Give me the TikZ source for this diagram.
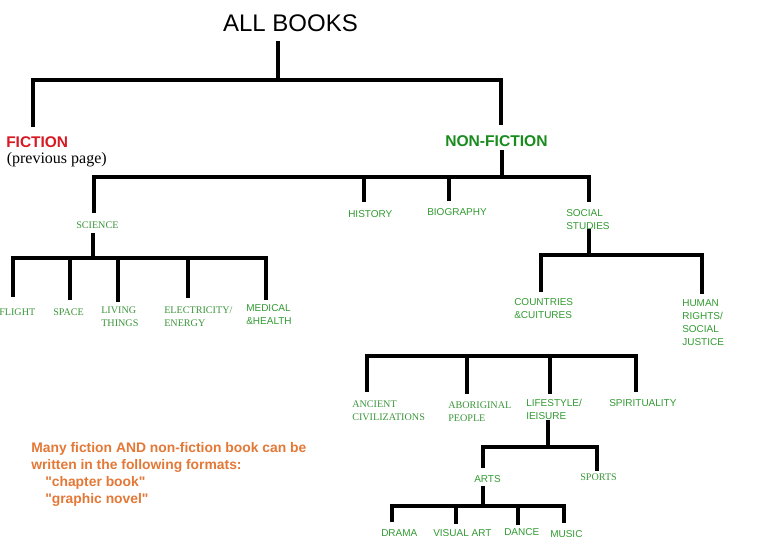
\documentclass[tikz,border=0pt]{standalone}
\usepackage{fontspec}
\setmainfont{Liberation Serif}
\setsansfont{Liberation Sans}
\newfontfamily\notefont{Liberation Sans}[Ligatures=TeXOff]
\definecolor{gsans}{RGB}{50,155,50}
\definecolor{gser}{RGB}{60,150,60}
\definecolor{nfgreen}{RGB}{25,140,30}
\definecolor{fred}{RGB}{215,25,35}
\definecolor{orng}{RGB}{228,120,55}
\begin{document}
\begin{tikzpicture}[x=0.75pt,y=-0.75pt,
  conn/.style={line width=2.3pt, black},
  lbl/.style={inner sep=0pt, anchor=west, align=left, font=\fontsize{7.5}{9.75}\selectfont},
  sanslbl/.style={lbl, text=gsans, font=\sffamily\fontsize{7.5}{9.75}\selectfont},
  serlbl/.style={lbl, text=gser, font=\rmfamily\fontsize{7.6}{9.75}\selectfont}]
\useasboundingbox (0,0) rectangle (780,550);
\fill[white] (0,0) rectangle (780,550);

% ---- text nodes ----
\node[inner sep=0pt, anchor=center, font=\sffamily\fontsize{18}{20}\selectfont] (allbooks) at (290.5,23.7) {ALL BOOKS};
\node[inner sep=0pt, anchor=west, text=fred, font=\sffamily\bfseries\fontsize{11.6}{13}\selectfont] (fiction) at (6,142.5) {FICTION};
\node[inner sep=0pt, anchor=west, font=\rmfamily\fontsize{12}{13}\selectfont] (prev) at (6.5,160) {(previous page)};
\node[inner sep=0pt, anchor=west, text=nfgreen, font=\sffamily\bfseries\fontsize{11.7}{13}\selectfont] (nonfiction) at (445,141) {NON-FICTION};

\node[serlbl] (science) at (76,225.5) {SCIENCE};
\node[sanslbl] (history) at (348,214) {HISTORY};
\node[sanslbl] (bio) at (427,212) {BIOGRAPHY};
\node[sanslbl] (social) at (566,219.5) {SOCIAL\\STUDIES};

\node[serlbl] (flight) at (-1,312) {FLIGHT};
\node[serlbl] (space) at (53,312) {SPACE};
\node[serlbl] (living) at (101,316.5) {LIVING\\THINGS};
\node[serlbl] (elec) at (164,317) {ELECTRICITY/\\ENERGY};
\node[sanslbl] (medical) at (246,314.5) {MEDICAL\\\&HEALTH};

\node[sanslbl] (countries) at (514,308.5) {COUNTRIES\\\&CUITURES};
\node[sanslbl] (human) at (682,322.5) {HUMAN\\RIGHTS/\\SOCIAL\\JUSTICE};

\node[serlbl] (ancient) at (352,410.5) {ANCIENT\\CIVILIZATIONS};
\node[serlbl] (abor) at (448,412) {ABORIGINAL\\PEOPLE};
\node[sanslbl] (life) at (526,409.5) {LIFESTYLE/\\IEISURE};
\node[sanslbl] (spirit) at (609,403) {SPIRITUALITY};

\node[sanslbl] (arts) at (474,479) {ARTS};
\node[serlbl] (sports) at (580,477) {SPORTS};

\node[sanslbl] (drama) at (381,533) {DRAMA};
\node[sanslbl] (visual) at (433,533) {VISUAL ART};
\node[sanslbl] (dance) at (504,532) {DANCE};
\node[sanslbl] (music) at (550,534) {MUSIC};

\node[inner sep=0pt, anchor=north west, align=left, text=orng,
  font=\notefont\bfseries\fontsize{10.4}{12.75}\selectfont] (note) at (31,442.5)
  {Many fiction AND non-fiction book can be\\
   written in the following formats:\\
   \hspace*{10.5pt}"chapter book"\\
   \hspace*{10.5pt}"graphic novel"};

% ---- connector coordinates ----
\coordinate (abP) at (278,41);
\coordinate (topL) at (33,80);
\coordinate (topR) at (501,80);
\coordinate (ficE) at (33,127);
\coordinate (nfE) at (501,125);
\coordinate (nfP) at (502,150);
\coordinate (nfL) at (94,177);
\coordinate (nfR) at (589,177);
\coordinate (sciE) at (94,213);
\coordinate (histE) at (364,202);
\coordinate (bioE) at (449,201);
\coordinate (socE) at (589,202);

\coordinate (sciP) at (93,233);
\coordinate (sciL) at (13,258);
\coordinate (sciR) at (266,258);
\coordinate (flightE) at (13,297);
\coordinate (spaceE) at (70,300);
\coordinate (livingE) at (118,302);
\coordinate (elecE) at (188,298);
\coordinate (medE) at (266,300);

\coordinate (socP) at (589,229);
\coordinate (socL) at (541,255);
\coordinate (socR) at (702,255);
\coordinate (cntE) at (541,292);
\coordinate (humE) at (702,294);

\coordinate (botL) at (367,356);
\coordinate (botR) at (636,356);
\coordinate (ancE) at (367,392);
\coordinate (aboE) at (467,394);
\coordinate (lifeE) at (550,394);
\coordinate (spiE) at (636,392);

\coordinate (lifeP) at (548,420);
\coordinate (lifeL) at (483,447);
\coordinate (lifeR) at (597,447);
\coordinate (artsE) at (483,468);
\coordinate (sportE) at (597,471);

\coordinate (artsP) at (483,486);
\coordinate (artsL) at (392,506);
\coordinate (artsR) at (564,506);
\coordinate (dramaE) at (392,522);
\coordinate (visE) at (456,524);
\coordinate (danceE) at (518,525);
\coordinate (musicE) at (564,523);

% ---- connectors ----
\draw[conn] (abP) -- (abP |- topL);
\draw[conn] (ficE) -- (topL) -- (topR) -- (nfE);
\draw[conn] (nfP) -- (nfP |- nfR);
\draw[conn] (sciE) -- (nfL) -- (nfR) -- (socE);
\draw[conn] (histE) -- (histE |- nfL);
\draw[conn] (bioE) -- (bioE |- nfL);

\draw[conn] (sciP) -- (sciP |- sciL);
\draw[conn] (flightE) -- (sciL) -- (sciR) -- (medE);
\draw[conn] (spaceE) -- (spaceE |- sciL);
\draw[conn] (livingE) -- (livingE |- sciL);
\draw[conn] (elecE) -- (elecE |- sciL);

\draw[conn] (socP) -- (socP |- socL);
\draw[conn] (cntE) -- (socL) -- (socR) -- (humE);

\draw[conn] (ancE) -- (botL) -- (botR) -- (spiE);
\draw[conn] (aboE) -- (aboE |- botL);
\draw[conn] (lifeE) -- (lifeE |- botL);

\draw[conn] (lifeP) -- (lifeP |- lifeL);
\draw[conn] (artsE) -- (lifeL) -- (lifeR) -- (sportE);

\draw[conn] (artsP) -- (artsP |- artsL);
\draw[conn] (dramaE) -- (artsL) -- (artsR) -- (musicE);
\draw[conn] (visE) -- (visE |- artsL);
\draw[conn] (danceE) -- (danceE |- artsL);
\end{tikzpicture}
\end{document}
